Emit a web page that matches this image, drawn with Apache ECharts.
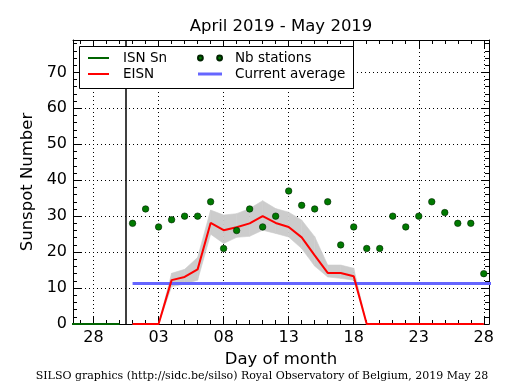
<!DOCTYPE html>
<html><head><meta charset="utf-8">
<script src="https://cdn.jsdelivr.net/npm/echarts@6/dist/echarts.min.js"></script>
<style>html,body{margin:0;padding:0;background:#fff}#c{width:515px;height:390px}</style>
</head><body><div id="c"></div>
<script>
// x is a day count: April d -> d, May d -> 30 + d
const aprilDays = [26, 27, 28, 29, 30];
const isnSn = [0, 0, 0, 0, 0];
const mayDays = [1,2,3,4,5,6,7,8,9,10,11,12,13,14,15,16,17,18,19,20,21,22,23,24,25,26,27,28];
const nbStations = [28,32,27,29,30,30,34,21,26,32,27,30,37,33,32,34,22,27,21,21,30,27,30,34,31,28,28,14];
const eisn     = [0,0,0,12.2,13.1,15.2,28.1,26.1,26.9,28.0,30.0,28.1,27.0,24.1,19.1,14.2,14.2,13.3,0,0,0,0,0,0,0,0,0,0];
const eisnLow  = [0,0,0,10.4,11.1,12.2,25.0,22.4,24.1,24.4,26.1,25.2,24.2,21.0,16.1,13.1,12.7,12.2,0,0,0,0,0,0,0,0,0,0];
const eisnHigh = [0,0,0,14.1,15.2,18.5,31.7,30.3,30.7,32.1,34.3,32.1,31.1,28.9,24.3,16.4,16.4,15.5,0,0,0,0,0,0,0,0,0,0];
const averageDays = [1, 29];
const currentAverage = 11.3;
const monthBoundary = [30.45];

const xMajorTicks = [28, 33, 38, 43, 48, 53, 58];
const xTickLabels = ['28', '03', '08', '13', '18', '23', '28'];
const xMinorTicks = [27,28,29,30,31,32,33,34,35,36,37,38,39,40,41,42,43,44,45,46,47,48,49,50,51,52,53,54,55,56,57,58];
const yMajorTicks = [0, 10, 20, 30, 40, 50, 60, 70];
const yMinorTicks = [2,4,6,8,12,14,16,18,22,24,26,28,32,34,36,38,42,44,46,48,52,54,56,58,62,64,66,68,72,74,76,78];
const xMin = 26.42, xMax = 58.4, yMin = 0, yMax = 79;

const FONT = 'DejaVu Sans';
const mayX = d => 30 + d;

function xAxisDef(pos, ticks, len, main) {
  return {
    type: 'value', position: pos, min: xMin, max: xMax,
    axisLine: { show: !!main, onZero: false, lineStyle: { color: '#000', width: 1 } },
    axisTick: { show: true, inside: true, length: len, customValues: ticks, lineStyle: { color: '#000', width: 1 } },
    axisLabel: main === 'label' ? {
      show: true, customValues: xMajorTicks, color: '#000', fontSize: 16, fontFamily: FONT, margin: 6,
      formatter: v => { const i = xMajorTicks.indexOf(Math.round(v)); return i >= 0 ? xTickLabels[i] : ''; }
    } : { show: false },
    splitLine: main === 'label' ? { show: true, lineStyle: { color: '#000', width: 1, type: [1, 3] } } : { show: false },
    name: main === 'label' ? 'Day of month' : '',
    nameLocation: 'middle', nameGap: 24,
    nameTextStyle: { fontSize: 16.5, fontFamily: FONT, color: '#000' }
  };
}
function yAxisDef(pos, ticks, len, main) {
  return {
    type: 'value', position: pos, min: yMin, max: yMax,
    axisLine: { show: !!main, onZero: false, lineStyle: { color: '#000', width: 1 } },
    axisTick: { show: true, inside: true, length: len, customValues: ticks, lineStyle: { color: '#000', width: 1 } },
    axisLabel: main === 'label' ? {
      show: true, customValues: yMajorTicks, color: '#000', fontSize: 16, fontFamily: FONT, margin: 6
    } : { show: false },
    splitLine: main === 'label' ? { show: true, lineStyle: { color: '#000', width: 1, type: [1, 3] } } : { show: false },
    name: main === 'label' ? 'Sunspot Number' : '',
    nameLocation: 'middle', nameGap: 28,
    nameTextStyle: { fontSize: 16.5, fontFamily: FONT, color: '#000' }
  };
}

const chart = echarts.init(document.getElementById('c'), null, { renderer: 'canvas' });
const nbIcon = 'path://M0,2.5a2.5,2.5 0 1,0 5,0a2.5,2.5 0 1,0 -5,0M20,2.5a2.5,2.5 0 1,0 5,0a2.5,2.5 0 1,0 -5,0';
const lineIcon2 = 'path://M0,0H21V2H0Z';
const lineIcon3 = 'path://M0,0H24V3H0Z';
const DOT = '#007a00';
const BLUE = '#6666ff';

chart.setOption({
  animation: false,
  backgroundColor: '#fff',
  grid: { left: 73, top: 40, right: 26, bottom: 66, containLabel: false },
  xAxis: [
    xAxisDef('bottom', xMajorTicks, 8, 'label'),
    xAxisDef('bottom', xMinorTicks, 4, false),
    xAxisDef('top', xMajorTicks, 8, true),
    xAxisDef('top', xMinorTicks, 4, false)
  ],
  yAxis: [
    yAxisDef('left', yMajorTicks, 8, 'label'),
    yAxisDef('left', yMinorTicks, 4, false),
    yAxisDef('right', yMajorTicks, 8, true),
    yAxisDef('right', yMinorTicks, 4, false)
  ],
  legend: [
    {
      data: [{ name: 'ISN Sn', icon: lineIcon2 }, { name: 'EISN', icon: lineIcon2 }],
      orient: 'vertical', left: 88, top: 51, padding: 0,
      itemWidth: 21, itemHeight: 14, itemGap: 2, selectedMode: false, z: 10,
      textStyle: { fontSize: 13.5, fontFamily: FONT, color: '#000', padding: [0, 0, 0, 9] }
    },
    {
      data: [{ name: 'Nb stations', icon: nbIcon }, { name: 'Current average', icon: lineIcon3 }],
      orient: 'vertical', left: 197, top: 51, padding: 0,
      itemWidth: 24, itemHeight: 14, itemGap: 2, selectedMode: false, z: 10,
      textStyle: { fontSize: 13.5, fontFamily: FONT, color: '#000', padding: [0, 0, 0, 8] }
    }
  ],
  graphic: [
    { type: 'rect', shape: { x: 79.5, y: 46.5, width: 274, height: 42 }, style: { fill: '#fff', stroke: '#000', lineWidth: 1 }, z: 8 },
    { type: 'text', x: 281, y: 27, style: { text: 'April 2019 - May 2019', textAlign: 'center', textVerticalAlign: 'middle', font: '16.5px "DejaVu Sans"', fill: '#000' }, z: 8 },
    { type: 'text', x: 262, y: 376, style: { text: 'SILSO graphics (http://sidc.be/silso) Royal Observatory of Belgium, 2019 May 28', textAlign: 'center', textVerticalAlign: 'middle', font: '11px "DejaVu Serif"', fill: '#000' }, z: 8 }
  ],
  series: [
    {
      name: 'band', type: 'custom', silent: true, z: 1,
      data: mayDays.slice(0, -1).map((d, i) => [mayX(d), eisnLow[i], eisnHigh[i], mayX(mayDays[i + 1]), eisnLow[i + 1], eisnHigh[i + 1]]),
      renderItem: (params, api) => {
        const x0 = api.value(0), l0 = api.value(1), h0 = api.value(2);
        const x1 = api.value(3), l1 = api.value(4), h1 = api.value(5);
        return {
          type: 'polygon',
          shape: { points: [api.coord([x0, l0]), api.coord([x1, l1]), api.coord([x1, h1]), api.coord([x0, h0])] },
          style: { fill: '#cccccc', stroke: '#cccccc', lineWidth: 0.6 }
        };
      }
    },
    {
      name: 'ISN Sn', type: 'line', symbol: 'none', color: '#006400',
      lineStyle: { color: '#006400', width: 2 },
      data: aprilDays.map((d, i) => [d, isnSn[i]]), z: 3,
      markLine: {
        silent: true, symbol: 'none', label: { show: false },
        lineStyle: { color: '#000', width: 1.5, type: 'solid' },
        data: monthBoundary.map(v => ({ xAxis: v }))
      }
    },
    {
      name: 'Current average', type: 'line', symbol: 'none', color: BLUE,
      lineStyle: { color: BLUE, width: 3 },
      data: averageDays.map(d => [mayX(d), currentAverage]), z: 3
    },
    {
      name: 'EISN', type: 'line', symbol: 'none', color: '#ff0000',
      lineStyle: { color: '#ff0000', width: 2 },
      data: mayDays.map((d, i) => [mayX(d), eisn[i]]), z: 4
    },
    {
      name: 'Nb stations', type: 'scatter', symbol: 'circle', symbolSize: 6.5,
      itemStyle: { color: DOT, borderColor: '#002200', borderWidth: 0.6, opacity: 1 },
      data: mayDays.map((d, i) => [mayX(d), nbStations[i]]), z: 5
    }
  ]
});
</script></body></html>
